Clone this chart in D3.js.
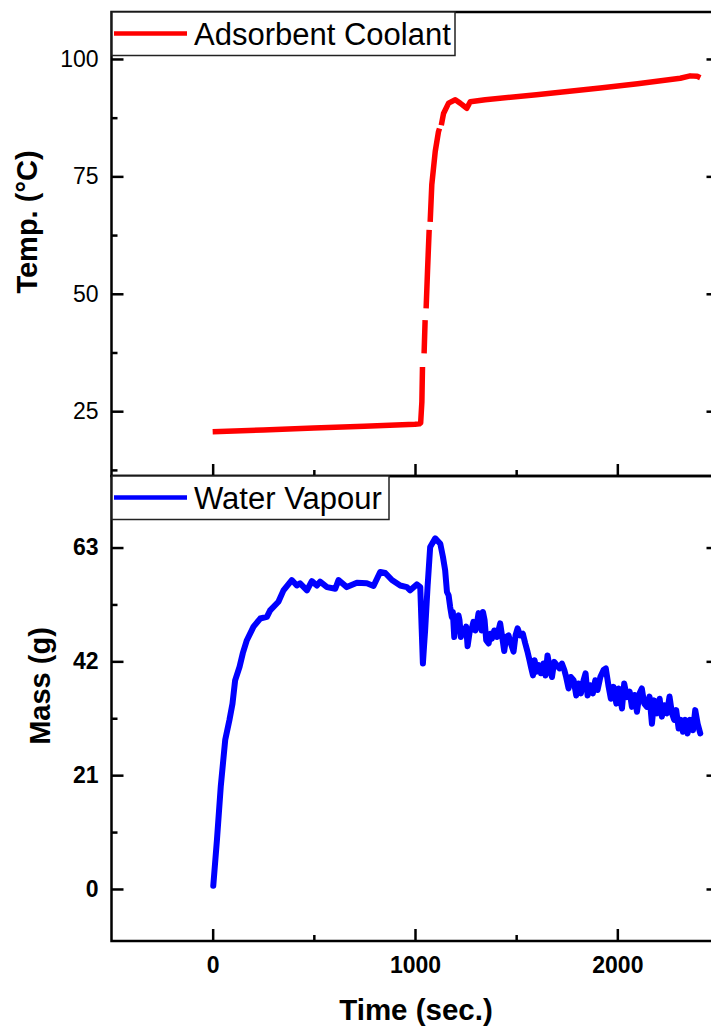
<!DOCTYPE html>
<html>
<head>
<meta charset="utf-8">
<script src="https://cdn.jsdelivr.net/npm/d3@7"></script>
<style>
  body { margin: 0; background: #fff; }
  svg { display: block; font-family: Arial, "Liberation Sans", sans-serif; }
  .tick line { stroke: #000; stroke-width: 2.5; }
  .tick text { fill: #000; }
</style>
</head>
<body>
<svg width="711" height="1027"></svg>
<script>
// adsorbent coolant temperature (null = gap in the plotted line)
const tempTime = [0, 250, 500, 750, 1000, 1022, 1028, 1034, 1037, null,
  1045, 1050, null, 1055, 1062, 1070, null, 1075, 1083, 1100, 1116, 1121, null,
  1130, 1141, 1166, 1199, 1223, 1256, 1273, 1347, 1600, 1915, 2100, 2311, 2360, 2395, 2410];
const tempValue = [20.6, 21.0, 21.4, 21.8, 22.2, 22.3, 22.5, 27.0, 34.4, null,
  37.3, 44.4, null, 46.9, 55.0, 63.6, null, 65.3, 73.2, 80.3, 84.5, 85.2, null,
  85.9, 88.4, 90.6, 91.3, 90.6, 89.5, 90.9, 91.3, 92.4, 93.8, 94.7, 95.9, 96.4, 96.3, 96.0];

// water vapour mass
const massTime = [3, 21, 40, 62, 83, 98, 111, 133, 149, 169, 202, 235, 268, 284, 325,
  350, 391, 416, 432, 466, 490, 515, 531, 565, 606, 622, 663, 713, 762, 795, 828,
  853, 886, 927, 960, 976, 1009, 1026, 1033, 1039, 1045, 1050, 1062, 1075, 1100,
  1125, 1138, 1149, 1158, 1166, 1174, 1182, 1187, 1194, 1202, 1215, 1220, 1227, 1235,
  1243, 1253, 1260, 1270, 1281, 1289, 1298, 1306, 1314, 1322, 1329, 1336, 1344, 1352,
  1364, 1372, 1380, 1392, 1405, 1421, 1431, 1441, 1451, 1462, 1474, 1487, 1497, 1507,
  1520, 1533, 1545, 1556, 1566, 1573, 1583, 1591, 1602, 1612, 1622, 1635, 1645, 1655,
  1665, 1677, 1688, 1701, 1714, 1726, 1738, 1747, 1759, 1770, 1784, 1797, 1808, 1820,
  1833, 1843, 1853, 1866, 1879, 1891, 1902, 1916, 1932, 1943, 1957, 1968, 1981, 1995,
  2006, 2023, 2034, 2047, 2061, 2072, 2085, 2097, 2110, 2121, 2133, 2146, 2159, 2171,
  2182, 2196, 2209, 2220, 2232, 2245, 2258, 2270, 2281, 2291, 2303, 2314, 2324, 2336,
  2347, 2360, 2374, 2385, 2397, 2410];
const massValue = [0.6, 9.0, 18.9, 27.5, 31.2, 34.2, 38.5, 41.0, 43.5, 45.9, 48.4, 49.9, 50.2, 51.4, 53.0,
  55.1, 57.0, 56.0, 56.4, 55.1, 56.8, 56.0, 56.7, 55.7, 55.4, 57.0, 55.7, 56.5, 56.4, 55.9, 58.5,
  58.3, 57.0, 56.0, 55.7, 55.1, 56.2, 55.7, 48.0, 41.6, 45.0, 47.7, 55.7, 63.1, 64.7,
  63.7, 61.3, 58.8, 54.8, 54.2, 52.0, 50.2, 51.1, 46.5, 49.6, 50.5, 49.6, 46.5, 48.0,
  47.1, 48.4, 44.8, 47.4, 48.1, 49.3, 47.7, 49.0, 50.9, 49.6, 47.7, 51.1, 49.6, 45.9,
  45.3, 47.1, 46.2, 47.7, 46.5, 49.0, 46.5, 43.9, 46.5, 46.8, 45.3, 43.8, 46.8, 48.1,
  46.8, 47.1, 45.3, 43.8, 42.2, 41.0, 39.4, 42.2, 40.1, 41.3, 39.8, 41.6, 39.4, 43.1,
  41.0, 39.1, 41.9, 41.3, 40.7, 41.6, 40.4, 39.1, 37.0, 39.1, 38.5, 35.7, 37.9, 36.1,
  38.5, 39.8, 35.7, 37.6, 36.1, 38.5, 36.7, 39.1, 40.4, 40.7, 37.3, 35.1, 37.3, 34.2,
  37.0, 33.3, 37.9, 35.4, 36.4, 33.6, 35.8, 32.7, 36.1, 37.0, 34.2, 33.6, 35.5, 30.5,
  34.8, 32.4, 35.1, 31.8, 33.9, 32.4, 35.5, 32.4, 31.2, 33.0, 29.6, 31.2, 29.0, 31.2,
  28.7, 31.2, 29.3, 33.0, 30.5, 28.7];

const xTicks = [0, 1000, 2000];
const xMinorTicks = [500, 1500];
const tempTicks = [25, 50, 75, 100];
const tempMinorTicks = [12.5, 37.5, 62.5, 87.5];
const massTicks = [0, 21, 42, 63];
const massMinorTicks = [10.5, 31.5, 52.5, 73.5];

(function (d3) {
  "use strict";

  const svg = d3.select("svg");
  const font = "Arial, 'Liberation Sans', sans-serif";

  const left = 111.5, right = 718.5;
  const topPanel = { top: 12, bottom: 476 };
  const botPanel = { top: 476, bottom: 941 };

  const xScale = d3.scaleLinear().domain([-500, 2500]).range([left, right]);
  const yTemp = d3.scaleLinear().domain([11.2, 110]).range([topPanel.bottom, topPanel.top]);
  const yMass = d3.scaleLinear().domain([-9.6, 76.2]).range([botPanel.bottom, botPanel.top]);

  const tempData = tempTime.map((t, i) => ({ t: t, v: tempValue[i] }));
  const massData = massTime.map((t, i) => ({ t: t, v: massValue[i] }));

  // axes helper: major + minor ticks pointing inwards
  const addAxis = (axisFn, scale, major, minor, transform, fmt) => {
    const gMaj = svg.append("g").attr("transform", transform)
      .call(axisFn(scale).tickValues(major).tickSize(-12).tickSizeOuter(0)
        .tickPadding(axisFn === d3.axisBottom ? 16 : 13)
        .tickFormat(fmt || (() => "")));
    gMaj.select(".domain").remove();
    const gMin = svg.append("g").attr("transform", transform)
      .call(axisFn(scale).tickValues(minor).tickSize(-6).tickSizeOuter(0).tickFormat(() => ""));
    gMin.select(".domain").remove();
    return gMaj;
  };

  // top panel
  const tl = addAxis(d3.axisLeft, yTemp, tempTicks, tempMinorTicks, `translate(${left},0)`, d3.format("d"));
  tl.selectAll("text").style("font-size", "23px").style("font-family", font);
  addAxis(d3.axisRight, yTemp, tempTicks, tempMinorTicks, `translate(${right},0)`);
  addAxis(d3.axisBottom, xScale, xTicks, xMinorTicks, `translate(0,${topPanel.bottom})`);

  // bottom panel
  const bl = addAxis(d3.axisLeft, yMass, massTicks, massMinorTicks, `translate(${left},0)`, d3.format("d"));
  bl.selectAll("text").style("font-size", "23px").style("font-weight", "bold").style("font-family", font);
  addAxis(d3.axisRight, yMass, massTicks, massMinorTicks, `translate(${right},0)`);
  const bx = addAxis(d3.axisBottom, xScale, xTicks, xMinorTicks, `translate(0,${botPanel.bottom})`, d3.format("d"));
  bx.selectAll("text").style("font-size", "23px").style("font-weight", "bold").style("font-family", font);

  // frames
  [topPanel, botPanel].forEach((p) => {
    svg.append("rect")
      .attr("x", left).attr("y", p.top)
      .attr("width", right - left).attr("height", p.bottom - p.top)
      .attr("fill", "none").attr("stroke", "#000").attr("stroke-width", 2.5);
  });

  // lines
  const tempLine = d3.line()
    .defined((d) => d.t != null && d.v != null)
    .x((d) => xScale(d.t))
    .y((d) => yTemp(d.v));

  svg.append("path")
    .attr("d", tempLine(tempData))
    .attr("fill", "none").attr("stroke", "#ff0000").attr("stroke-width", 5.5)
    .attr("stroke-linejoin", "round");

  const massLine = d3.line()
    .x((d) => xScale(d.t))
    .y((d) => yMass(d.v));

  svg.append("path")
    .attr("d", massLine(massData))
    .attr("fill", "none").attr("stroke", "#0000ff").attr("stroke-width", 6)
    .attr("stroke-linejoin", "round").attr("stroke-linecap", "round");

  // legends
  const legend = (y, w, color, label) => {
    const g = svg.append("g");
    g.append("rect").attr("x", 112).attr("y", y).attr("width", w).attr("height", 43.5)
      .attr("fill", "#fff").attr("stroke", "#222").attr("stroke-width", 1.5);
    g.append("line").attr("x1", 114).attr("x2", 187).attr("y1", y + 21.5).attr("y2", y + 21.5)
      .attr("stroke", color).attr("stroke-width", 4.5);
    g.append("text").attr("x", 194).attr("y", y + 32.5)
      .attr("font-size", 31).attr("fill", "#000").text(label);
  };
  legend(12, 343, "#ff0000", "Adsorbent Coolant");
  legend(476, 277, "#0000ff", "Water Vapour");

  // axis titles
  svg.append("text")
    .attr("transform", "translate(37,222) rotate(-90)")
    .attr("text-anchor", "middle").attr("font-size", 29).attr("font-weight", "bold")
    .text("Temp. (°C)");

  svg.append("text")
    .attr("transform", "translate(50,686) rotate(-90)")
    .attr("text-anchor", "middle").attr("font-size", 29).attr("font-weight", "bold")
    .text("Mass (g)");

  svg.append("text")
    .attr("x", 416).attr("y", 1020)
    .attr("text-anchor", "middle").attr("font-size", 29.5).attr("font-weight", "bold")
    .text("Time (sec.)");
})(d3);
</script>
</body>
</html>
